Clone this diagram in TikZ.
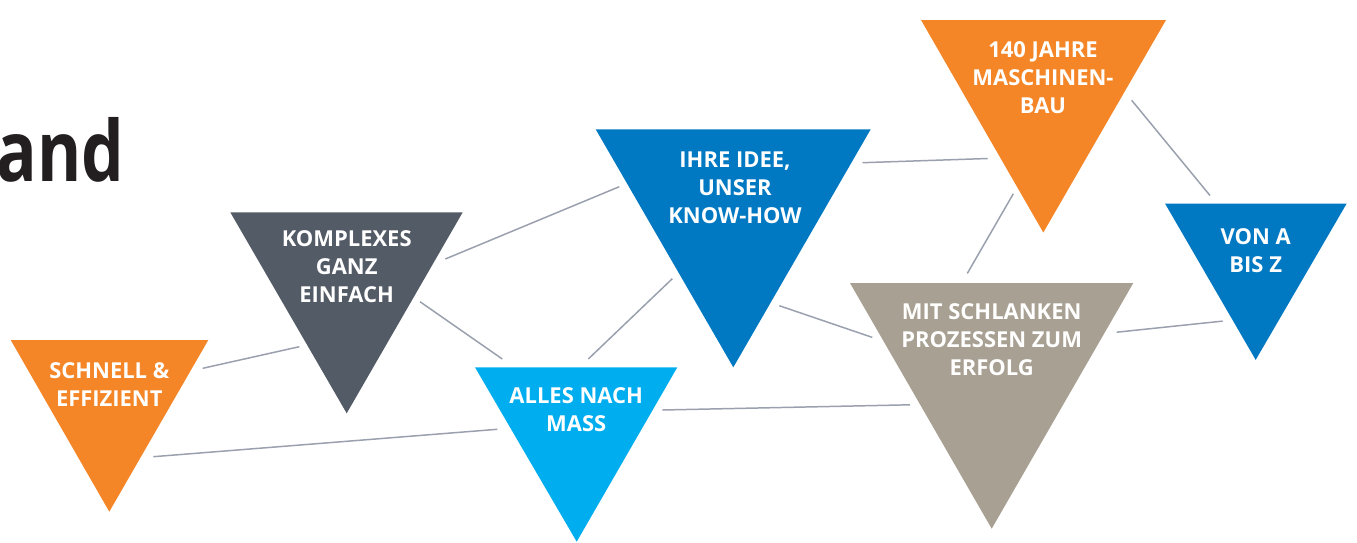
\documentclass[tikz,border=0pt]{standalone}
\usepackage{fontspec}
\setmainfont{Open Sans}
\definecolor{kbOrange}{RGB}{244,134,40}
\definecolor{kbSlate}{RGB}{83,91,102}
\definecolor{kbSky}{RGB}{0,174,239}
\definecolor{kbBlue}{RGB}{0,121,194}
\definecolor{kbTaupe}{RGB}{168,160,147}
\definecolor{kbLine}{RGB}{154,160,174}
\definecolor{kbInk}{RGB}{35,31,32}

\begin{document}
\begin{tikzpicture}[x=0.02cm, y=-0.02cm,
    label/.style={text=white, align=center, inner sep=0pt, font=\bfseries\fontsize{12.5}{16}\selectfont},
    link/.style={kbLine, line width=0.85pt}]
    \useasboundingbox (0,0) rectangle (1357,542); % page size
    \node[anchor=base east, text=kbInk, inner sep=0pt, font=\bfseries\fontsize{48}{48}\selectfont] (title) at (125,181) {\scalebox{0.8}[1]{and}}; % cut title
    \fill[kbOrange] (10.7,340) -- (208.3,340) -- (109.3,511.7) -- cycle; % schnell
    \fill[kbSlate] (230.3,212.3) -- (462.7,212.3) -- (346.7,413.3) -- cycle; % komplexes
    \fill[kbSky] (475,367.3) -- (677.3,367.3) -- (576.7,541.7) -- cycle; % alles
    \fill[kbBlue] (595.7,129.3) -- (870.7,129.3) -- (733.3,367.3) -- cycle; % ihre idee
    \fill[kbOrange] (921,20) -- (1166,20) -- (1043.3,232.5) -- cycle; % 140 jahre
    \fill[kbBlue] (1165,203.5) -- (1346.7,203.5) -- (1255.7,359.9) -- cycle; % von a bis z
    \fill[kbTaupe] (850,283) -- (1133.3,283) -- (991.7,528.7) -- cycle; % mit schlanken
    \node[label] (schnell) at (109.3,384.2) {SCHNELL \&\\EFFIZIENT};
    \node[label] (komplexes) at (346.7,266.7) {KOMPLEXES\\GANZ\\EINFACH};
    \node[label] (alles) at (576.2,410) {ALLES NACH\\MASS};
    \node[label] (ihre) at (735,188) {IHRE IDEE,\\UNSER\\KNOW-HOW};
    \node[label] (jahre) at (1043,77.8) {140 JAHRE\\MASCHINEN-\\BAU};
    \node[label] (von) at (1255.7,250.7) {VON A\\BIS Z};
    \node[label] (mit) at (991.7,339.8) {MIT SCHLANKEN\\PROZESSEN ZUM\\ERFOLG};
    % ends of the links
    \coordinate (sk1) at (202.7,368.3); \coordinate (sk2) at (299.3,346.7);
    \coordinate (sa1) at (153.3,456.7); \coordinate (sa2) at (497.3,429.3);
    \coordinate (ki1) at (445.3,259); \coordinate (ki2) at (619.3,186.7);
    \coordinate (ka1) at (420,301.7); \coordinate (ka2) at (502.3,359);
    \coordinate (ai1) at (588.3,359); \coordinate (ai2) at (672.3,278.7);
    \coordinate (am1) at (662.3,410); \coordinate (am2) at (910,404.8);
    \coordinate (ij1) at (862.5,162.7); \coordinate (ij2) at (987.7,158.5);
    \coordinate (im1) at (779.3,305.7); \coordinate (im2) at (872.3,337.4);
    \coordinate (jm1) at (1013.3,193.8); \coordinate (jm2) at (967.3,273.4);
    \coordinate (jv1) at (1131.7,100.3); \coordinate (jv2) at (1210,195.5);
    \coordinate (mv1) at (1116.7,332.2); \coordinate (mv2) at (1222.7,321.1);
    \draw[link] (sk1) -- (sk2); % schnell - komplexes
    \draw[link] (sa1) -- (sa2); % schnell - alles
    \draw[link] (ki1) -- (ki2); % komplexes - ihre
    \draw[link] (ka1) -- (ka2); % komplexes - alles
    \draw[link] (ai1) -- (ai2); % alles - ihre
    \draw[link] (am1) -- (am2); % alles - mit
    \draw[link] (ij1) -- (ij2); % ihre - jahre
    \draw[link] (im1) -- (im2); % ihre - mit
    \draw[link] (jm1) -- (jm2); % jahre - mit
    \draw[link] (jv1) -- (jv2); % jahre - von
    \draw[link] (mv1) -- (mv2); % mit - von
\end{tikzpicture}
\end{document}
